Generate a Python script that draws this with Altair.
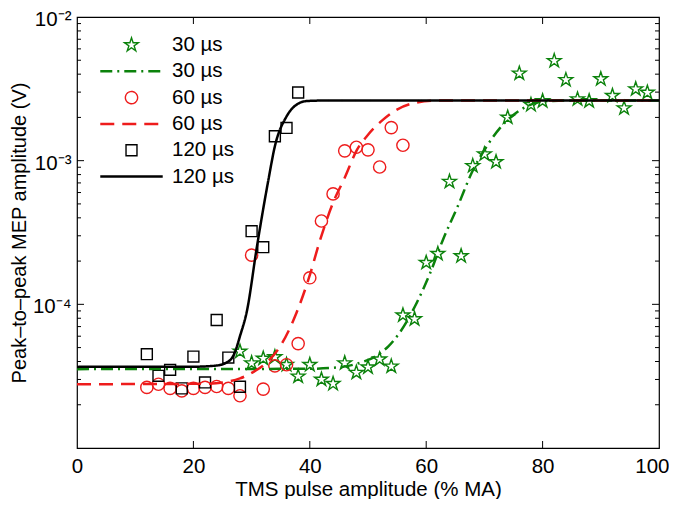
import altair as alt
import pandas as pd

# ---------------- data ----------------
series_names = ["30 µs", "30 µs fit", "60 µs", "60 µs fit", "120 µs", "120 µs fit"]

# 30 µs pulses (stars)
x30 = [28, 30, 32, 34, 36, 38, 40, 42, 44, 46, 48, 50, 52, 54, 56, 58, 60, 62,
       64, 66, 68, 70, 72, 74, 76, 78, 80, 82, 84, 86, 88, 90, 92, 94, 96, 98]
y30 = [4.7e-5, 3.9e-5, 4.2e-5, 4.3e-5, 3.8e-5, 3.15e-5, 3.8e-5, 3.0e-5, 2.8e-5,
       3.9e-5, 3.35e-5, 3.65e-5, 4.15e-5, 3.7e-5, 8.4e-5, 7.9e-5, 1.95e-4, 2.25e-4,
       7.15e-4, 2.17e-4, 9.2e-4, 1.11e-3, 9.8e-4, 2.0e-3, 4.05e-3, 2.45e-3, 2.6e-3,
       4.95e-3, 3.65e-3, 2.68e-3, 2.6e-3, 3.7e-3, 2.83e-3, 2.32e-3, 3.15e-3, 2.98e-3]

# 60 µs pulses (circles)
x60 = [12, 14, 16, 18, 20, 22, 24, 26, 28, 30, 32, 34, 36, 38, 40, 42, 44, 46,
       48, 50, 52, 54, 56]
y60 = [2.64e-5, 2.78e-5, 2.6e-5, 2.5e-5, 2.6e-5, 2.64e-5, 2.68e-5, 2.6e-5, 2.31e-5,
       2.2e-4, 2.57e-5, 3.73e-5, 3.8e-5, 5.33e-5, 1.53e-4, 3.8e-4, 5.87e-4, 1.17e-3,
       1.24e-3, 1.19e-3, 9.04e-4, 1.7e-3, 1.28e-3]

# 120 µs pulses (squares)
x120 = [12, 14, 16, 18, 20, 22, 24, 26, 28, 30, 32, 34, 36, 38]
y120 = [4.5e-5, 3.18e-5, 3.5e-5, 2.6e-5, 4.33e-5, 2.86e-5, 7.78e-5, 4.26e-5, 2.67e-5,
        3.23e-4, 2.5e-4, 1.48e-3, 1.69e-3, 2.98e-3]

# fitted curves, points
fx30 = [0, 40, 44, 48, 51.8, 53.5, 55.5, 58.4, 60.7, 62.9, 65.5, 67.8, 70.4, 72.7,
        76.7, 80.1, 84, 100]
fy30 = [3.54e-5, 3.56e-5, 3.62e-5, 3.85e-5, 4.48e-5, 5.1e-5, 6.4e-5, 1.03e-4, 1.66e-4,
        2.83e-4, 4.9e-4, 8.2e-4, 1.26e-3, 1.69e-3, 2.32e-3, 2.58e-3, 2.62e-3, 2.62e-3]

fx60 = [0, 22, 26, 28, 30.6, 32.6, 34.9, 37.7, 39.9, 41.8, 44.0, 46.0, 48.1, 49.8,
        52.6, 54.9, 58.4, 62, 100]
fy60 = [2.78e-5, 2.8e-5, 2.9e-5, 3.05e-5, 3.44e-5, 3.94e-5, 5.1e-5, 8.7e-5, 1.55e-4,
        2.83e-4, 5.1e-4, 7.6e-4, 1.19e-3, 1.48e-3, 1.93e-3, 2.26e-3, 2.54e-3, 2.62e-3,
        2.62e-3]

fx120 = [0, 20, 24, 26, 27.1, 28, 29.2, 30.9, 32.9, 34.0, 36.0, 37.7, 39.5, 42, 100]
fy120 = [3.67e-5, 3.68e-5, 3.75e-5, 4.0e-5, 4.6e-5, 6.0e-5, 9.0e-5, 2.5e-4, 7.4e-4,
         1.26e-3, 2.03e-3, 2.45e-3, 2.6e-3, 2.62e-3, 2.62e-3]

x_ticks = [0, 20, 40, 60, 80, 100]
x_inner_ticks = [20, 40, 60, 80]
y_label_ticks = [1e-4, 1e-3, 1e-2]
y_inner_major = [1e-4, 1e-3]
y_minor = [m * d for d in (1e-5, 1e-4, 1e-3) for m in range(2, 10)]

# ---------------- tables ----------------
pts_df = pd.concat([
    pd.DataFrame({"x": x30, "y": y30, "series": series_names[0]}),
    pd.DataFrame({"x": x60, "y": y60, "series": series_names[2]}),
    pd.DataFrame({"x": x120, "y": y120, "series": series_names[4]}),
], ignore_index=True)

fit_df = pd.concat([
    pd.DataFrame({"x": fx30, "y": fy30, "series": series_names[1]}),
    pd.DataFrame({"x": fx60, "y": fy60, "series": series_names[3]}),
    pd.DataFrame({"x": fx120, "y": fy120, "series": series_names[5]}),
], ignore_index=True)

xt_df = pd.DataFrame({"x": x_inner_ticks})
ymaj_df = pd.DataFrame({"y": y_inner_major})
ymin_df = pd.DataFrame({"y": y_minor})

# ---------------- styling ----------------
W, H = 582, 431
FONT = "Liberation Sans"
FS = 20.5
GREEN, RED, BLACK = "#0b820b", "#ee1c1c", "#000000"
STAR = ("M0,-1L0.225,-0.309L0.951,-0.309L0.363,0.118L0.588,0.809L0,0.382"
        "L-0.588,0.809L-0.363,0.118L-0.951,-0.309L-0.225,-0.309Z")

color_scale = alt.Scale(domain=series_names, range=[GREEN, GREEN, RED, RED, BLACK, BLACK])
shape_scale = alt.Scale(domain=series_names,
                        range=[STAR, "stroke", "circle", "stroke", "square", "stroke"])
size_scale = alt.Scale(type="ordinal", domain=series_names,
                       range=[210, 3900, 150, 3900, 120, 3900])
dash_scale = alt.Scale(domain=series_names,
                       range=[[1, 0], [12, 5, 2, 5], [1, 0], [14, 8], [1, 0], [1, 0]])
sw_scale = alt.Scale(type="ordinal", domain=series_names,
                     range=[1.4, 2.5, 1.4, 2.5, 1.4, 2.5])


def leg():
    return alt.Legend(title=None, orient="none", legendX=22, legendY=17,
                      labelExpr="replace(datum.label, ' fit', '')",
                      labelFontSize=FS, labelFont=FONT, labelColor="black",
                      labelOffset=8, clipHeight=22, rowPadding=4.3, padding=0,
                      symbolOpacity=1)


xs = alt.Scale(domain=[0, 100], nice=False, zero=False)
ys = alt.Scale(type="log", domain=[1e-5, 1e-2], nice=False)

common_axis = dict(grid=False, domain=False, labelFont=FONT, titleFont=FONT,
                   labelColor="black", titleColor="black", ticks=False,
                   labelFontSize=FS, titleFontWeight="normal")

x_label_axis = alt.Axis(
    orient="bottom", values=x_ticks, labelPadding=8, labelFlush=False,
    labelAlign={"condition": {"test": "datum.value >= 100", "value": "right"},
                "value": "center"},
    labelOffset={"condition": {"test": "datum.value >= 100", "value": 10},
                 "value": 0},
    titlePadding=3, titleFontSize=FS, **common_axis)
y_label_axis = alt.Axis(orient="left", values=y_label_ticks, labelPadding=6,
                        labelOffset=2.5, labelFlush=False, titlePadding=3,
                        titleFontSize=20,
                        labelExpr="datum.value > 0.005 ? '10⁻²' : (datum.value > 0.0005 ? '10⁻³' : '10⁻⁴')",
                        **common_axis)

# inward tick marks (positions along the axis come from the scales)
rule = dict(color="black", strokeWidth=1)
xt = alt.Chart(xt_df).mark_rule(**rule)
yt_maj = alt.Chart(ymaj_df).mark_rule(**rule)
yt_min = alt.Chart(ymin_df).mark_rule(**rule)
X_T = alt.X("x:Q", scale=xs, axis=None)
Y_T = alt.Y("y:Q", scale=ys, axis=None)
ticks = [
    xt.encode(x=X_T, y=alt.value(H), y2=alt.value(H - 7)),
    xt.encode(x=X_T, y=alt.value(0), y2=alt.value(7)),
    yt_maj.encode(y=Y_T, x=alt.value(0), x2=alt.value(7)),
    yt_maj.encode(y=Y_T, x=alt.value(W), x2=alt.value(W - 7)),
    yt_min.encode(y=Y_T, x=alt.value(0), x2=alt.value(4)),
    yt_min.encode(y=Y_T, x=alt.value(W), x2=alt.value(W - 4)),
]

points = alt.Chart(pts_df).mark_point(filled=False, opacity=1).encode(
    x=alt.X("x:Q", scale=xs, axis=None),
    y=alt.Y("y:Q", scale=ys, axis=None),
    color=alt.Color("series:N", scale=color_scale, legend=leg()),
    shape=alt.Shape("series:N", scale=shape_scale, legend=leg()),
    size=alt.Size("series:N", scale=size_scale, legend=leg()),
    strokeWidth=alt.StrokeWidth("series:N", scale=sw_scale, legend=leg()),
)

lines = alt.Chart(fit_df).mark_line(interpolate="monotone").encode(
    x=alt.X("x:Q", scale=xs, axis=x_label_axis, title="TMS pulse amplitude (% MA)"),
    y=alt.Y("y:Q", scale=ys, axis=y_label_axis, title="Peak–to–peak MEP amplitude (V)"),
    color=alt.Color("series:N", scale=color_scale, legend=leg()),
    strokeDash=alt.StrokeDash("series:N", scale=dash_scale, legend=leg()),
    strokeWidth=alt.StrokeWidth("series:N", scale=sw_scale, legend=leg()),
)

chart = alt.layer(*ticks, points, lines).resolve_axis(
    x="independent", y="independent"
).properties(
    width=W, height=H,
    autosize=alt.AutoSizeParams(type="none"),
    padding={"left": 69, "top": 9, "right": 10, "bottom": 51},
    background="white",
).configure_view(stroke="black", strokeWidth=1.2)

chart.save("out.html", embed_options={"renderer": "svg", "actions": False})
